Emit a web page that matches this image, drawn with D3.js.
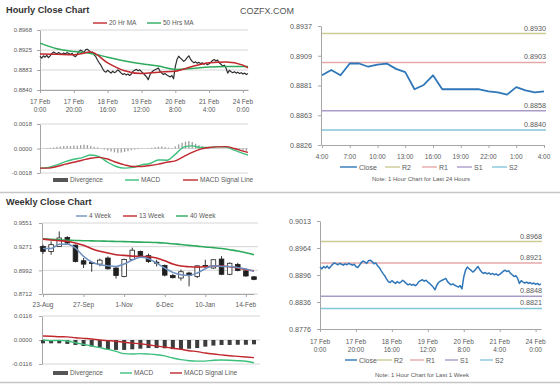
<!DOCTYPE html>
<html>
<head>
<meta charset="utf-8">
<script src="https://cdnjs.cloudflare.com/ajax/libs/d3/7.8.5/d3.min.js"></script>
<style>
  body { margin: 0; background: #fff; }
  svg { display: block; }
</style>
</head>
<body>
<svg id="chart" width="560" height="386"></svg>
<script>
// ---------- hourly (17 Feb 0:00 -> 24 Feb 3:00, trading hours) ----------
const hourlyClose = [
  0.8912, 0.8908, 0.8913, 0.8910, 0.8914, 0.8909, 0.8913, 0.8918, 0.8921, 0.8919,
  0.8917, 0.8920, 0.8918, 0.8916, 0.8919, 0.8917, 0.8920, 0.8918, 0.8916, 0.8918,
  0.8913, 0.8911, 0.8916, 0.8922, 0.8925, 0.8923, 0.8920, 0.8926, 0.8927, 0.8924,
  0.8919, 0.8921, 0.8915, 0.8911, 0.8904, 0.8898, 0.8893, 0.8886, 0.8880, 0.8878,
  0.8882, 0.8879, 0.8876, 0.8880, 0.8877, 0.8879, 0.8883, 0.8880, 0.8876, 0.8873,
  0.8875, 0.8872, 0.8874, 0.8871, 0.8874, 0.8880, 0.8882, 0.8884, 0.8881, 0.8883,
  0.8879, 0.8876, 0.8872, 0.8868, 0.8862, 0.8872, 0.8878, 0.8881, 0.8883, 0.8885,
  0.8887, 0.8880, 0.8876, 0.8873, 0.8875, 0.8872, 0.8870, 0.8868, 0.8871, 0.8864,
  0.8890, 0.8905, 0.8912, 0.8908, 0.8905, 0.8901, 0.8904, 0.8909, 0.8913, 0.8906,
  0.8901, 0.8898, 0.8900, 0.8897, 0.8899, 0.8896, 0.8898, 0.8895, 0.8897, 0.8894,
  0.8896, 0.8899, 0.8903, 0.8905, 0.8902, 0.8904, 0.8898, 0.8895, 0.8891, 0.8893,
  0.8887, 0.8876, 0.8882, 0.8879, 0.8877, 0.8879, 0.8876, 0.8878, 0.8875, 0.8877,
  0.8874, 0.8876, 0.8873, 0.8875
];
const hourlyTickHours = [0, 20, 40, 60, 80, 100, 120];
const hourlyTickDates = ['17 Feb', '17 Feb', '18 Feb', '19 Feb', '20 Feb', '21 Feb', '24 Feb'];
const hourlyTickTimes = ['0:00', '20:00', '16:00', '12:00', '8:00', '4:00', '0:00'];
const hourlyPriceLabels = ['0.8840', '0.8883', '0.8925', '0.8968'];

const maHours = [0, 10, 20, 30, 40, 50, 60, 70, 80, 90, 100, 110, 120, 123];
const ma20 = [0.8917, 0.8916, 0.8915, 0.8921, 0.8898, 0.8881, 0.8875, 0.8878, 0.8880, 0.8890, 0.8898, 0.8900, 0.8893, 0.8887];
const ma50 = [0.8940, 0.8928, 0.8922, 0.8918, 0.8910, 0.8902, 0.8896, 0.8891, 0.8884, 0.8886, 0.8889, 0.8890, 0.8890, 0.8890];

const macdHours = [0, 5, 10, 15, 20, 25, 30, 35, 40, 45, 50, 55, 60, 65, 70, 75, 80, 85, 90, 95, 100, 105, 110, 115, 120, 123];
const hourlyMacd = [-0.00144, -0.00139, -0.00120, -0.00096, -0.00079, -0.00067, -0.00048, -0.00060, -0.00101, -0.00132,
  -0.00144, -0.00139, -0.00120, -0.00110, -0.00084, -0.00086, -0.00043, 0.00010, 0.00019, 0.00007,
  0.00007, 0.00014, 0.00010, -0.00012, -0.00036, -0.00048];
const hourlySignal = [-0.00144, -0.00144, -0.00132, -0.00115, -0.00101, -0.00086, -0.00072, -0.00065, -0.00077, -0.00101,
  -0.00120, -0.00132, -0.00132, -0.00125, -0.00115, -0.00101, -0.00091, -0.00060, -0.00029, -0.00005,
  0.00007, 0.00012, 0.00014, 0.00000, -0.00019, -0.00029];
// one value every 2 hours
const hourlyDivergence = [
  0.00000, 0.00001, 0.00003, 0.00005, 0.00008, 0.00012, 0.00015, 0.00018, 0.00020, 0.00018,
  0.00022, 0.00020, 0.00024, 0.00028, 0.00025, 0.00018, 0.00012, 0.00008, 0.00002, -0.00008,
  -0.00015, -0.00022, -0.00028, -0.00032, -0.00030, -0.00025, -0.00020, -0.00012, -0.00008, -0.00005,
  -0.00002, 0.00000, 0.00003, 0.00006, 0.00010, 0.00013, 0.00015, 0.00010, 0.00006, 0.00003,
  0.00015, 0.00030, 0.00042, 0.00050, 0.00055, 0.00048, 0.00035, 0.00025, 0.00018, 0.00012,
  0.00008, 0.00005, 0.00003, 0.00002, 0.00001, 0.00000, -0.00003, -0.00006, -0.00009, -0.00012,
  -0.00015, -0.00017
];
const hourlyMacdLabels = ['-0.0018', '0.0000', '0.0018'];

// ---------- last 24 hours ----------
const dayTimes = ['4:00', '7:00', '10:00', '13:00', '16:00', '19:00', '22:00', '1:00', '4:00'];
const dayClose = [0.8891, 0.8896, 0.8891, 0.8902, 0.8902, 0.8899, 0.8901, 0.8902, 0.8897, 0.8894,
  0.8878, 0.8882, 0.8891, 0.8878, 0.8878, 0.8878, 0.8878, 0.8878, 0.8876, 0.8875,
  0.8873, 0.8880, 0.8877, 0.8875, 0.8876];
const dayPriceLabels = ['0.8826', '0.8863', '0.8881', '0.8909', '0.8937'];
const dayLevels = [0.8930, 0.8903, 0.8858, 0.8840];

// ---------- last week (hourly) ----------
const weekPriceLabels = ['0.8776', '0.8836', '0.8896', '0.8964', '0.9013'];
const weekLevels = [0.8968, 0.8921, 0.8848, 0.8821];
const levelNames = ['R2', 'R1', 'S1', 'S2'];

// ---------- weekly candles ----------
const weekDates = ['23-Aug', '30-Aug', '6-Sep', '13-Sep', '20-Sep', '27-Sep', '4-Oct', '11-Oct', '18-Oct', '25-Oct',
  '1-Nov', '8-Nov', '15-Nov', '22-Nov', '29-Nov', '6-Dec', '13-Dec', '20-Dec', '27-Dec', '3-Jan',
  '10-Jan', '17-Jan', '24-Jan', '31-Jan', '7-Feb', '14-Feb', '21-Feb'];
const weekOpen = [0.9274, 0.9215, 0.9274, 0.9381, 0.9290, 0.9105, 0.9085, 0.9065, 0.9137, 0.9019,
  0.8918, 0.9120, 0.9215, 0.9165, 0.9088, 0.9050, 0.8930, 0.8901, 0.8960, 0.8918,
  0.9050, 0.9019, 0.9125, 0.8945, 0.9060, 0.8985, 0.8915];
const weekHigh = [0.9295, 0.9335, 0.9452, 0.9395, 0.9295, 0.9137, 0.9090, 0.9130, 0.9156, 0.9038,
  0.9130, 0.9260, 0.9225, 0.9190, 0.9117, 0.9060, 0.8950, 0.9000, 0.8975, 0.9050,
  0.9117, 0.9120, 0.9160, 0.9085, 0.9080, 0.9019, 0.8925];
const weekLow = [0.9185, 0.9176, 0.9274, 0.9300, 0.9085, 0.9019, 0.8975, 0.9040, 0.8999, 0.8895,
  0.8910, 0.9110, 0.9140, 0.9080, 0.9038, 0.8920, 0.8895, 0.8870, 0.8802, 0.8900,
  0.9019, 0.9010, 0.8935, 0.8935, 0.8980, 0.8915, 0.8875];
const weekClose = [0.9215, 0.9295, 0.9374, 0.9315, 0.9097, 0.9065, 0.9078, 0.9112, 0.9010, 0.8930,
  0.9120, 0.9230, 0.9156, 0.9095, 0.9080, 0.8935, 0.8905, 0.8975, 0.8930, 0.9045,
  0.9040, 0.9117, 0.8945, 0.9075, 0.8990, 0.8925, 0.8885];
const week4 = [0.9250, 0.9250, 0.9300, 0.9300, 0.9255, 0.9156, 0.9090, 0.9058, 0.9046, 0.9038,
  0.9066, 0.9113, 0.9145, 0.9129, 0.9078, 0.9019, 0.8967, 0.8940, 0.8932, 0.8960,
  0.9011, 0.9046, 0.9038, 0.9038, 0.9026, 0.9007, 0.8979];
const week13 = [0.9361, 0.9350, 0.9342, 0.9335, 0.9315, 0.9287, 0.9248, 0.9217, 0.9196, 0.9176,
  0.9168, 0.9160, 0.9156, 0.9152, 0.9137, 0.9105, 0.9066, 0.9042, 0.9034, 0.9030,
  0.9034, 0.9042, 0.9042, 0.9034, 0.9019, 0.8999, 0.8987];
const week40 = [0.9365, 0.9358, 0.9352, 0.9348, 0.9345, 0.9342, 0.9340, 0.9338, 0.9335, 0.9333,
  0.9331, 0.9328, 0.9325, 0.9323, 0.9320, 0.9315, 0.9305, 0.9297, 0.9287, 0.9278,
  0.9268, 0.9260, 0.9250, 0.9235, 0.9220, 0.9200, 0.9176];
const weeklyPriceLabels = ['0.8712', '0.8992', '0.9271', '0.9551'];

const weekMacd = [0.0000, -0.0003, -0.0002, -0.0005, -0.0013, -0.0021, -0.0029, -0.0037, -0.0045, -0.0055,
  -0.0066, -0.0068, -0.0066, -0.0068, -0.0071, -0.0077, -0.0087, -0.0095, -0.0100, -0.0102,
  -0.0102, -0.0098, -0.0097, -0.0098, -0.0100, -0.0103, -0.0110];
const weekSignal = [0.0019, 0.0018, 0.0016, 0.0015, 0.0011, 0.0008, 0.0005, 0.0000, -0.0003, -0.0006,
  -0.0011, -0.0015, -0.0018, -0.0024, -0.0029, -0.0034, -0.0040, -0.0045, -0.0052, -0.0056,
  -0.0063, -0.0068, -0.0072, -0.0076, -0.0079, -0.0082, -0.0085];
const weekDivergence = [-0.0016, -0.0016, -0.0016, -0.0019, -0.0024, -0.0029, -0.0032, -0.0037, -0.0044, -0.0048,
  -0.0048, -0.0045, -0.0042, -0.0039, -0.0039, -0.0040, -0.0044, -0.0045, -0.0042, -0.0039,
  -0.0032, -0.0027, -0.0024, -0.0024, -0.0023, -0.0023, -0.0021];
const weeklyMacdLabels = ['-0.0116', '0.0000', '0.0116'];

// ---------- styling ----------
const FONT = '"Liberation Sans", Arial, Helvetica, sans-serif';
const TXT = '#595959';
const AXIS = '#a6a6a6';
const GRID = '#cccccc';
const RED = '#c0282e';
const GREEN = '#2eaa5c';
const LIGHTGREEN = '#3cc07c';
const BLUE = '#2f77b8';
const LEVEL_COLORS = ['#cbcb94', '#e6a9a9', '#a99bc9', '#84c6da'];

const svg = d3.select('#chart');

// tick values spread evenly between first and last label (as the source chart does)
function evenTicks(labels) {
  const lo = +labels[0], hi = +labels[labels.length - 1];
  return labels.map((_, i) => lo + (hi - lo) * i / (labels.length - 1));
}

function leftAxis(x0, y, labels, {fs = 6, pad = 5, grid = null} = {}) {
  const ticks = evenTicks(labels);
  if (grid) {
    svg.append('g').selectAll('line').data(ticks).join('line')
      .attr('x1', x0).attr('x2', grid)
      .attr('y1', d => y(d)).attr('y2', d => y(d))
      .attr('stroke', GRID).attr('stroke-width', 0.8);
  }
  const g = svg.append('g')
    .attr('transform', `translate(${x0},0)`)
    .call(d3.axisLeft(y).tickValues(ticks).tickFormat((d, i) => labels[i])
      .tickSize(3).tickPadding(pad).tickSizeOuter(0))
    .attr('font-family', FONT)
    .attr('font-size', fs);
  g.select('.domain').attr('stroke', AXIS);
  g.selectAll('.tick line').attr('stroke', AXIS);
  g.selectAll('.tick text').attr('fill', TXT);
}

function bottomAxis(y0, x, ticks) {
  const g = svg.append('g')
    .attr('transform', `translate(0,${y0})`)
    .call(d3.axisBottom(x).tickValues(ticks).tickFormat('').tickSize(3).tickSizeOuter(0));
  g.select('.domain').attr('stroke', AXIS);
  g.selectAll('.tick line').attr('stroke', AXIS);
}

function twoLineLabels(x, ticks, dates, times, y) {
  const rows = ticks.map((t, i) => ({t, date: dates[i], time: times[i]}));
  const txt = svg.append('g')
    .attr('font-family', FONT).attr('font-size', 6.5).attr('fill', TXT)
    .attr('text-anchor', 'middle')
    .selectAll('text').data(rows).join('text')
    .attr('y', y);
  txt.append('tspan').attr('x', d => x(d.t)).text(d => d.date);
  txt.append('tspan').attr('x', d => x(d.t)).attr('dy', 8.3).text(d => d.time);
}

function legend(y, items, fs = 6.5) {
  const g = svg.append('g').attr('font-family', FONT).attr('font-size', fs).attr('fill', TXT);
  items.forEach(it => {
    const w = it.w || 14;
    if (it.bar) {
      g.append('rect').attr('x', it.x).attr('y', y - 2).attr('width', w).attr('height', 4).attr('fill', it.color);
    } else {
      g.append('line').attr('x1', it.x).attr('x2', it.x + w).attr('y1', y).attr('y2', y)
        .attr('stroke', it.color).attr('stroke-width', 1.4);
    }
    g.append('text').attr('x', it.x + w + 2).attr('y', y + fs * 0.36).text(it.text);
  });
}

function drawLine(xs, ys, x, y, color, width, curve = d3.curveLinear) {
  const line = d3.line().x(d => x(d[0])).y(d => y(d[1])).curve(curve);
  svg.append('path')
    .datum(xs.map((v, i) => [v, ys[i]]))
    .attr('fill', 'none').attr('stroke', color).attr('stroke-width', width)
    .attr('stroke-linejoin', 'round')
    .attr('d', line);
}

function levelLines(levels, y, x1, x2) {
  const g = svg.append('g');
  g.selectAll('line').data(levels).join('line')
    .attr('x1', x1).attr('x2', x2)
    .attr('y1', d => y(d)).attr('y2', d => y(d))
    .attr('stroke', (d, i) => LEVEL_COLORS[i]).attr('stroke-width', 1.5);
  g.selectAll('text').data(levels).join('text')
    .attr('x', x2).attr('y', d => y(d) - 3)
    .attr('text-anchor', 'end')
    .attr('font-family', FONT).attr('font-size', 7.2).attr('fill', TXT)
    .text(d => d.toFixed(4));
}

// ---------- titles & frame ----------
svg.append('text').attr('x', 6).attr('y', 12.5)
  .attr('font-family', FONT).attr('font-size', 9.2).attr('font-weight', 'bold').attr('fill', '#333')
  .text('Hourly Close Chart');
svg.append('text').attr('x', 240).attr('y', 14.3)
  .attr('font-family', FONT).attr('font-size', 9).attr('fill', '#555')
  .text('COZFX.COM');
svg.append('text').attr('x', 6).attr('y', 205)
  .attr('font-family', FONT).attr('font-size', 9.2).attr('font-weight', 'bold').attr('fill', '#333')
  .text('Weekly Close Chart');
[192.5, 382.5].forEach(yy => svg.append('line')
  .attr('x1', 0).attr('x2', 560).attr('y1', yy).attr('y2', yy)
  .attr('stroke', '#c6c6c6').attr('stroke-width', 1.5));

// ---------- hourly close chart (top left) ----------
const hourIdx = hourlyClose.map((_, i) => i);
const xh = d3.scaleLinear().domain([0, hourlyClose.length - 1]).range([40, 248]);
const yh = d3.scaleLinear().domain([+hourlyPriceLabels[0], +hourlyPriceLabels[hourlyPriceLabels.length - 1]]).range([90, 30]);
leftAxis(40, yh, hourlyPriceLabels, {grid: 248});
bottomAxis(90, xh, hourlyTickHours);
drawLine(hourIdx, hourlyClose, xh, yh, '#2e2e2e', 1.2);
drawLine(maHours, ma50, xh, yh, GREEN, 1.5, d3.curveMonotoneX);
drawLine(maHours, ma20, xh, yh, RED, 1.5, d3.curveMonotoneX);
twoLineLabels(xh, hourlyTickHours, hourlyTickDates, hourlyTickTimes, 104);
legend(23, [
  {x: 93, color: RED, text: '20 Hr MA'},
  {x: 147, color: GREEN, text: '50 Hrs MA'}
]);

// hourly MACD
const ymh = d3.scaleLinear().domain([+hourlyMacdLabels[0], +hourlyMacdLabels[2]]).range([173, 124]);
leftAxis(40, ymh, hourlyMacdLabels, {grid: 248});
svg.append('g').selectAll('rect').data(hourlyDivergence).join('rect')
  .attr('x', (d, i) => xh(i * 2) - 0.6)
  .attr('width', 1.3)
  .attr('y', d => Math.min(ymh(d), ymh(0)))
  .attr('height', d => Math.abs(ymh(d) - ymh(0)))
  .attr('fill', '#9c9c9c');
drawLine(macdHours, hourlyMacd, xh, ymh, LIGHTGREEN, 1.4, d3.curveMonotoneX);
drawLine(macdHours, hourlySignal, xh, ymh, RED, 1.4, d3.curveMonotoneX);
legend(180, [
  {x: 53, bar: true, color: '#555', w: 15, text: 'Divergence'},
  {x: 125, color: LIGHTGREEN, text: 'MACD'},
  {x: 183, color: RED, w: 15, text: 'MACD Signal Line'}
]);

// ---------- last 24 hours (top right) ----------
const xd = d3.scaleLinear().domain([0, dayClose.length - 1]).range([322, 544]);
const yd = d3.scaleLinear().domain([+dayPriceLabels[0], +dayPriceLabels[dayPriceLabels.length - 1]]).range([145, 26]);
levelLines(dayLevels, yd, 322, 546);
leftAxis(321, yd, dayPriceLabels, {fs: 7.2, pad: 6});
bottomAxis(145, xd, dayTimes.map((_, i) => i * 3));
drawLine(dayClose.map((_, i) => i), dayClose, xd, yd, BLUE, 1.8);
svg.append('g').attr('font-family', FONT).attr('font-size', 6.5).attr('fill', TXT)
  .attr('text-anchor', 'middle')
  .selectAll('text').data(dayTimes).join('text')
  .attr('x', (d, i) => xd(i * 3)).attr('y', 158.5).text(d => d);
legend(167, [
  {x: 340, color: BLUE, w: 17, text: 'Close'},
  {x: 385, color: LEVEL_COLORS[0], w: 15, text: levelNames[0]},
  {x: 422, color: LEVEL_COLORS[1], w: 15, text: levelNames[1]},
  {x: 457, color: LEVEL_COLORS[2], w: 15, text: levelNames[2]},
  {x: 492, color: LEVEL_COLORS[3], w: 15, text: levelNames[3]}
], 7);
svg.append('text').attr('x', 421).attr('y', 181).attr('text-anchor', 'middle')
  .attr('font-family', FONT).attr('font-size', 6).attr('fill', TXT)
  .text('Note: 1 Hour Chart for Last 24 Hours');

// ---------- weekly close chart (bottom left) ----------
const xw = d3.scaleLinear().domain([0, weekDates.length - 1]).range([43, 254]);
const yw = d3.scaleLinear().domain([+weeklyPriceLabels[0], +weeklyPriceLabels[3]]).range([294, 223]);
leftAxis(42, yw, weeklyPriceLabels, {grid: 258, pad: 7});
bottomAxis(294, xw, d3.range(0, weekDates.length, 5));
const candles = svg.append('g').selectAll('g').data(weekDates).join('g');
candles.append('line')
  .attr('x1', (d, i) => xw(i)).attr('x2', (d, i) => xw(i))
  .attr('y1', (d, i) => yw(weekHigh[i])).attr('y2', (d, i) => yw(weekLow[i]))
  .attr('stroke', '#1f1f1f').attr('stroke-width', 0.9);
candles.append('rect')
  .attr('x', (d, i) => xw(i) - 2.3).attr('width', 4.6)
  .attr('y', (d, i) => yw(Math.max(weekOpen[i], weekClose[i])))
  .attr('height', (d, i) => Math.max(1, Math.abs(yw(weekOpen[i]) - yw(weekClose[i]))))
  .attr('fill', (d, i) => weekClose[i] < weekOpen[i] ? '#1f1f1f' : '#fff')
  .attr('stroke', '#1f1f1f').attr('stroke-width', 0.8);
const weekIdx = weekDates.map((_, i) => i);
drawLine(weekIdx, week40, xw, yw, GREEN, 1.6, d3.curveMonotoneX);
drawLine(weekIdx, week13, xw, yw, RED, 1.6, d3.curveMonotoneX);
drawLine(weekIdx, week4, xw, yw, '#6f91c2', 1.5, d3.curveMonotoneX);
svg.append('g').attr('font-family', FONT).attr('font-size', 6.5).attr('fill', TXT)
  .attr('text-anchor', 'middle')
  .selectAll('text').data(d3.range(0, weekDates.length, 5)).join('text')
  .attr('x', d => xw(d)).attr('y', 306.5).text(d => weekDates[d]);
legend(216, [
  {x: 76, color: '#6f91c2', w: 11, text: '4 Week'},
  {x: 123, color: RED, w: 14, text: '13 Week'},
  {x: 176, color: GREEN, w: 12, text: '40 Week'}
]);

// weekly MACD
const ymw = d3.scaleLinear().domain([+weeklyMacdLabels[0], +weeklyMacdLabels[2]]).range([364, 316]);
leftAxis(42, ymw, weeklyMacdLabels, {grid: 260, pad: 7});
svg.append('g').selectAll('rect').data(weekDivergence).join('rect')
  .attr('x', (d, i) => xw(i) - 2).attr('width', 4)
  .attr('y', d => Math.min(ymw(d), ymw(0)))
  .attr('height', d => Math.abs(ymw(d) - ymw(0)))
  .attr('fill', '#3c3c3c');
drawLine(weekIdx, weekMacd, xw, ymw, LIGHTGREEN, 1.4, d3.curveMonotoneX);
drawLine(weekIdx, weekSignal, xw, ymw, RED, 1.4, d3.curveMonotoneX);
legend(373, [
  {x: 53, bar: true, color: '#555', w: 15, text: 'Divergence'},
  {x: 120, color: LIGHTGREEN, w: 12, text: 'MACD'},
  {x: 170, color: RED, w: 12, text: 'MACD Signal Line'}
]);

// ---------- last week hourly (bottom right) ----------
const xk = d3.scaleLinear().domain([0, hourlyClose.length - 1]).range([320, 541]);
const yk = d3.scaleLinear().domain([+weekPriceLabels[0], +weekPriceLabels[weekPriceLabels.length - 1]]).range([329, 221]);
levelLines(weekLevels, yk, 320, 542);
leftAxis(320, yk, weekPriceLabels, {fs: 7.2, pad: 6});
bottomAxis(329, xk, hourlyTickHours);
drawLine(hourIdx, hourlyClose, xk, yk, BLUE, 1.5);
twoLineLabels(xk, hourlyTickHours, hourlyTickDates, hourlyTickTimes, 344);
legend(360, [
  {x: 345, color: BLUE, w: 12, text: 'Close'},
  {x: 377, color: LEVEL_COLORS[0], w: 15, text: levelNames[0]},
  {x: 410, color: LEVEL_COLORS[1], w: 14, text: levelNames[1]},
  {x: 445, color: LEVEL_COLORS[2], w: 13, text: levelNames[2]},
  {x: 480, color: LEVEL_COLORS[3], w: 13, text: levelNames[3]}
], 7);
svg.append('text').attr('x', 422).attr('y', 376.5).attr('text-anchor', 'middle')
  .attr('font-family', FONT).attr('font-size', 6).attr('fill', TXT)
  .text('Note: 1 Hour Chart for Last 1 Week');
</script>
</body>
</html>
